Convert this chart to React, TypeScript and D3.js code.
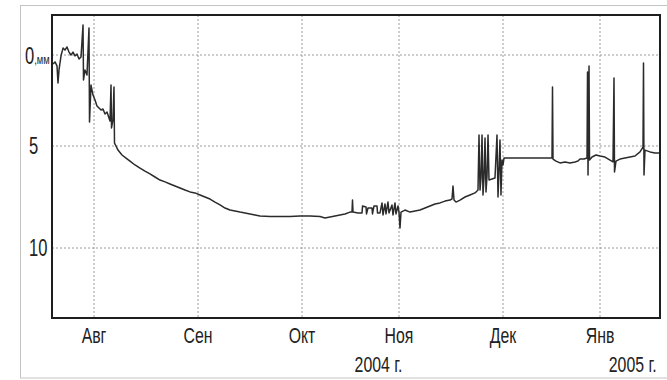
import React from "react";
import * as d3 from "d3";

// ---- data ----
// days since 1 Aug 2004 (negative = July)
const dayOffsets = [
  -12.69, -12.07, -11.45, -11.14, -10.83, -10.21, -9.59, -8.98, -8.36, -7.74,
  -7.12, -6.5, -5.88, -5.26, -4.64, -4.02, -3.4, -3.25, -2.79, -2.17,
  -1.55, -1.39, -0.93, -0.31, 0.3, 0.89, 1.49, 2.09, 2.68, 3.28,
  3.88, 4.47, 4.77, 5.07, 5.22, 5.66, 5.96, 6.11, 6.56, 7.15,
  8.35, 9.54, 10.73, 12.22, 13.71, 15.2, 16.69, 18.18, 19.67, 21.17,
  22.66, 24.15, 25.64, 27.13, 28.62, 30.11, 31.58, 33.02, 34.46, 35.9,
  37.35, 38.79, 40.23, 41.67, 43.12, 44.56, 46.0, 47.44, 48.89, 51.77,
  54.66, 57.54, 60.43, 63.56, 66.75, 68.35, 69.95, 71.55, 73.14, 74.74,
  76.34, 76.98, 77.14, 77.3, 78.9, 80.18, 80.34, 81.46, 81.62, 82.09,
  83.37, 83.53, 84.01, 84.97, 85.13, 85.93, 86.57, 86.89, 87.52, 87.84,
  88.48, 88.8, 89.76, 90.08, 90.72, 91.04, 91.68, 92.0, 92.29, 92.58,
  93.73, 95.17, 96.62, 98.06, 99.5, 100.94, 102.39, 103.83, 105.27, 106.71,
  107.29, 107.58, 107.87, 108.44, 109.6, 111.04, 112.48, 113.93, 114.79, 115.08,
  115.37, 115.66, 115.95, 116.23, 116.52, 116.81, 117.1, 117.39, 117.68, 117.96,
  118.83, 119.69, 120.27, 120.56, 120.85, 121.13, 121.42, 121.71, 122.0, 122.32,
  137.02, 137.66, 137.82, 137.98, 138.94, 140.22, 141.82, 143.41, 145.01, 145.97,
  146.61, 147.89, 148.85, 149.01, 149.17, 149.49, 149.65, 150.45, 151.72, 153.0,
  154.5, 156.0, 156.9, 157.2, 157.35, 157.8, 159.0, 160.5, 162.0, 163.5,
  165.0, 165.9, 166.05, 166.2, 166.5, 168.0, 169.5, 171.0,
];
// depth, mm (downwards)
const depthsMm = [
  0.49, 0.38, 0.6, 1.54, 0.82, 0.05, -0.38, -0.27, -0.44, -0.16,
  0.0, -0.16, 0.05, -0.05, 0.22, 0.11, -1.65, 1.37, 0.82, 1.1,
  -1.48, 3.68, 1.65, 2.2, 2.47, 2.8, 2.91, 3.02, 2.97, 3.24,
  3.13, 3.46, 3.63, 1.65, 4.01, 3.57, 1.76, 4.84, 5.0, 5.2,
  5.44, 5.59, 5.74, 5.93, 6.08, 6.23, 6.37, 6.52, 6.67, 6.76,
  6.86, 6.96, 7.06, 7.16, 7.25, 7.3, 7.4, 7.5, 7.6, 7.75,
  7.89, 8.04, 8.14, 8.19, 8.24, 8.28, 8.33, 8.38, 8.43, 8.46,
  8.46, 8.46, 8.43, 8.43, 8.46, 8.53, 8.48, 8.43, 8.38, 8.33,
  8.24, 8.24, 7.65, 8.24, 8.28, 8.28, 7.94, 7.99, 8.33, 8.04,
  8.04, 8.33, 7.94, 7.94, 8.28, 8.28, 7.79, 8.38, 7.84, 8.33,
  7.75, 8.28, 7.89, 8.38, 7.79, 8.33, 7.94, 8.24, 9.02, 8.24,
  8.14, 8.24, 8.19, 8.14, 8.04, 7.94, 7.84, 7.79, 7.7, 7.65,
  7.6, 6.96, 7.65, 7.75, 7.65, 7.5, 7.4, 7.3, 7.16, 4.4,
  7.16, 6.57, 4.4, 7.4, 6.57, 4.56, 7.25, 6.47, 4.4, 6.67,
  6.62, 6.57, 4.4, 7.5, 6.18, 4.67, 7.4, 5.69, 5.93, 5.59,
  5.59, 5.59, 1.76, 5.64, 5.74, 5.83, 5.78, 5.83, 5.78, 5.74,
  5.64, 5.64, 5.59, 0.93, 6.42, 0.6, 5.69, 5.54, 5.44, 5.49,
  5.54, 5.69, 5.78, 1.26, 6.27, 5.74, 5.64, 5.59, 5.54, 5.49,
  5.29, 5.05, 0.44, 6.42, 5.2, 5.29, 5.34, 5.34,
];
const monthLabels = ["Авг", "Сен", "Окт", "Ноя", "Дек", "Янв"];
const monthStarts = ["2004-08-01", "2004-09-01", "2004-10-01", "2004-11-01", "2004-12-01", "2005-01-01"];
const yTickValues = [0, 5, 10];
const yTickLabels = ["0", "5", "10"];
const yearLabels = ["2004 г.", "2005 г."];
const yearLabelDates = ["2004-11-02", "2005-01-18"];

const parse = (s: string) => {
  const [y, m, d] = s.split("-").map(Number);
  return new Date(y, m - 1, d);
};
const base = new Date(2004, 7, 1).getTime();
const toDate = (d: number) => new Date(base + d * 86400000);

export default function App() {
  const W = 667, H = 380;
  const L = 52, R = 660, T = 15, B = 318;

  const x = d3
    .scaleTime()
    .domain([parse("2004-07-19"), ...monthStarts.map(parse), parse("2005-01-19")])
    .range([L, 94, 198, 302, 399, 503, 600, R]);
  const y = d3.scaleLinear().domain([0, 5, 10]).range([55, 146, 248]);

  const pts: [Date, number][] = dayOffsets.map((d, i) => [toDate(d), depthsMm[i]]);
  const line = d3
    .line<[Date, number]>()
    .x((p) => x(p[0]))
    .y((p) => y(p[1]));

  const font = "'Liberation Sans', Arial, sans-serif";
  const sx = 0.72;

  return (
    <svg width={W} height={H} style={{ position: "absolute", left: 0, top: 0, background: "#fff" }}>
      <rect x={20.5} y={5.5} width={700} height={372.5} fill="none" stroke="#c4c4c4" strokeWidth={1} />
      <defs>
        <clipPath id="plot">
          <rect x={L} y={T} width={R - L} height={B - T} />
        </clipPath>
      </defs>
      {/* grid */}
      {yTickValues.map((v) => (
        <line key={"h" + v} x1={L} x2={R} y1={y(v)} y2={y(v)} stroke="#9a9a9a" strokeWidth={1} strokeDasharray="2,2" />
      ))}
      {monthStarts.map((m) => (
        <line key={"v" + m} x1={x(parse(m))} x2={x(parse(m))} y1={T} y2={B} stroke="#9a9a9a" strokeWidth={1} strokeDasharray="2,2" />
      ))}
      {/* series */}
      <path d={line(pts) || ""} fill="none" stroke="#2b2b2b" strokeWidth={1.5} strokeLinejoin="round" clipPath="url(#plot)" />
      {/* frame */}
      <rect x={L} y={T} width={R - L} height={B - T} fill="none" stroke="#1e1e1e" strokeWidth={2} />
      {/* y labels */}
      {yTickValues.map((v, i) => (
        <text
          key={"yl" + v}
          transform={`translate(${i === 0 ? 25 : 29},${y(v) + (i === 0 ? 9 : 8)}) scale(${sx},1)`}
          fontFamily={font}
          fontSize={23}
          fill="#222"
        >
          {yTickLabels[i]}
          {i === 0 && <tspan fontSize={13}>,мм</tspan>}
        </text>
      ))}
      {/* month labels */}
      {monthStarts.map((m, i) => (
        <text
          key={"ml" + m}
          transform={`translate(${x(parse(m))},343) scale(${sx},1)`}
          textAnchor="middle"
          fontFamily={font}
          fontSize={22}
          fill="#222"
        >
          {monthLabels[i]}
        </text>
      ))}
      {yearLabels.map((t, i) => (
        <text
          key={"yr" + i}
          transform={`translate(${x(parse(yearLabelDates[i]))},372) scale(${sx},1)`}
          textAnchor="end"
          fontFamily={font}
          fontSize={22}
          fill="#222"
        >
          {t}
        </text>
      ))}
    </svg>
  );
}
